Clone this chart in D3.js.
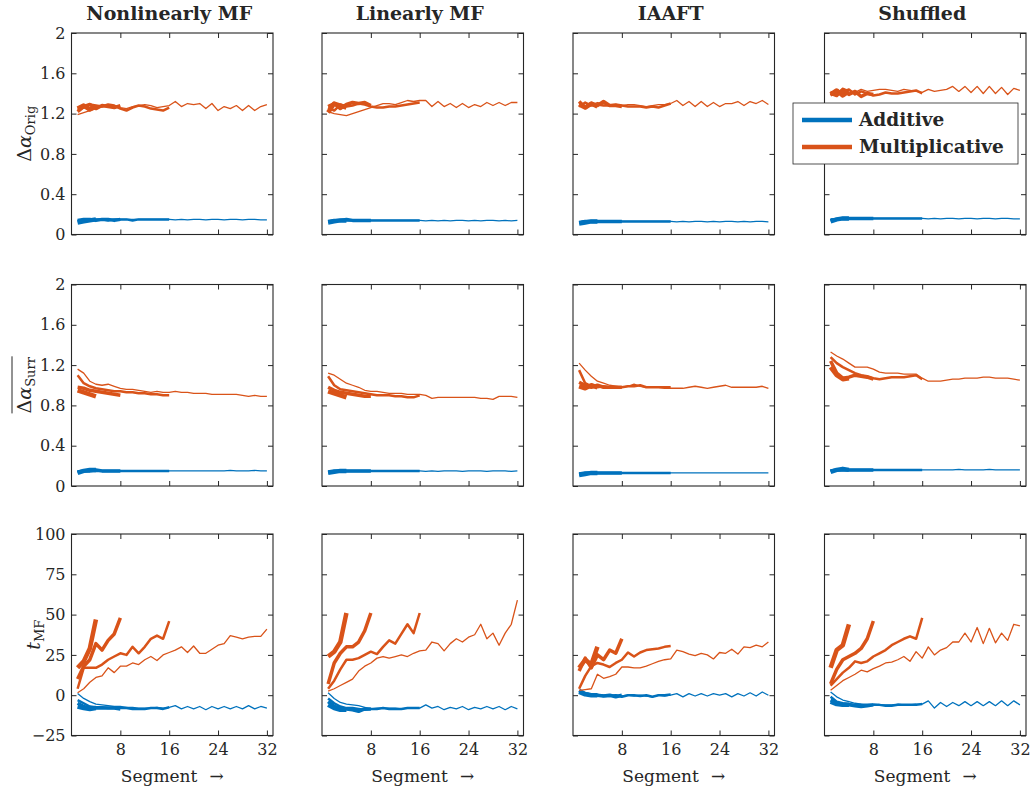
<!DOCTYPE html>
<html>
<head>
<meta charset="utf-8">
<script src="https://cdn.jsdelivr.net/npm/d3@7"></script>
<style>
body { margin: 0; background: #fff; }
svg text { font-family: "DejaVu Serif", serif; fill: #262626; }
</style>
</head>
<body>
<div id="chart"></div>
<script>
var colTitles = ["Nonlinearly MF", "Linearly MF", "IAAFT", "Shuffled"];
var segLengths = [4, 8, 16, 32];
var xTicks = [8, 16, 24, 32];
var alphaTicks = [0, 0.4, 0.8, 1.2, 1.6, 2];
var tTicks = [-25, 0, 25, 50, 75, 100];
var legendLabels = ["Additive", "Multiplicative"];

// each array: one line per segment count (4, 8, 16, 32)
// row 1: delta alpha of original series
var origNlAdd = [
  [0.12, 0.13, 0.14, 0.15],
  [0.14, 0.15, 0.15, 0.14, 0.15, 0.15, 0.14, 0.15],
  [0.13, 0.14, 0.15, 0.15, 0.15, 0.14, 0.15, 0.15, 0.15, 0.14, 0.15, 0.15, 0.15, 0.15, 0.15, 0.15],
  [0.14, 0.14, 0.15, 0.15, 0.15, 0.15, 0.15, 0.15, 0.15, 0.15, 0.15, 0.15, 0.15, 0.15, 0.15, 0.15, 0.145, 0.15, 0.145, 0.15, 0.15, 0.145, 0.15, 0.15, 0.145, 0.15, 0.15, 0.145, 0.15, 0.15, 0.145, 0.145]
];
var origNlMul = [
  [1.25, 1.28, 1.24, 1.27],
  [1.22, 1.27, 1.29, 1.25, 1.28, 1.27, 1.26, 1.28],
  [1.24, 1.26, 1.29, 1.28, 1.27, 1.29, 1.28, 1.25, 1.23, 1.26, 1.28, 1.27, 1.25, 1.24, 1.23, 1.26],
  [1.19, 1.21, 1.23, 1.25, 1.27, 1.27, 1.28, 1.26, 1.25, 1.27, 1.28, 1.29, 1.28, 1.26, 1.27, 1.28, 1.32, 1.27, 1.30, 1.29, 1.30, 1.25, 1.30, 1.23, 1.27, 1.25, 1.28, 1.23, 1.28, 1.23, 1.27, 1.29]
];
var origLinAdd = [
  [0.12, 0.13, 0.14, 0.14],
  [0.13, 0.14, 0.14, 0.15, 0.14, 0.14, 0.14, 0.14],
  [0.13, 0.13, 0.14, 0.14, 0.14, 0.14, 0.14, 0.14, 0.14, 0.14, 0.14, 0.14, 0.14, 0.14, 0.14, 0.14],
  [0.13, 0.14, 0.14, 0.14, 0.14, 0.14, 0.14, 0.14, 0.14, 0.14, 0.14, 0.14, 0.14, 0.14, 0.14, 0.14, 0.135, 0.14, 0.135, 0.14, 0.135, 0.14, 0.14, 0.135, 0.14, 0.135, 0.14, 0.14, 0.135, 0.14, 0.135, 0.14]
];
var origLinMul = [
  [1.21, 1.30, 1.28, 1.26],
  [1.27, 1.30, 1.25, 1.29, 1.31, 1.30, 1.31, 1.28],
  [1.26, 1.23, 1.29, 1.27, 1.28, 1.30, 1.29, 1.27, 1.26, 1.26, 1.27, 1.27, 1.28, 1.29, 1.30, 1.31],
  [1.22, 1.20, 1.19, 1.18, 1.20, 1.22, 1.24, 1.26, 1.28, 1.30, 1.30, 1.29, 1.31, 1.33, 1.32, 1.33, 1.33, 1.27, 1.32, 1.27, 1.30, 1.26, 1.30, 1.26, 1.29, 1.27, 1.31, 1.28, 1.31, 1.28, 1.31, 1.31]
];
var origIaaftAdd = [
  [0.11, 0.12, 0.13, 0.13],
  [0.12, 0.13, 0.13, 0.13, 0.13, 0.13, 0.13, 0.13],
  [0.12, 0.13, 0.13, 0.13, 0.13, 0.13, 0.13, 0.13, 0.13, 0.13, 0.13, 0.13, 0.13, 0.13, 0.13, 0.13],
  [0.12, 0.125, 0.13, 0.13, 0.13, 0.13, 0.13, 0.13, 0.13, 0.13, 0.13, 0.13, 0.13, 0.13, 0.13, 0.13, 0.125, 0.13, 0.125, 0.13, 0.13, 0.125, 0.13, 0.125, 0.13, 0.13, 0.125, 0.13, 0.125, 0.13, 0.13, 0.125]
];
var origIaaftMul = [
  [1.29, 1.26, 1.30, 1.27],
  [1.32, 1.26, 1.30, 1.28, 1.32, 1.28, 1.28, 1.27],
  [1.27, 1.31, 1.28, 1.29, 1.28, 1.28, 1.29, 1.28, 1.27, 1.27, 1.27, 1.26, 1.27, 1.26, 1.28, 1.30],
  [1.30, 1.28, 1.29, 1.31, 1.30, 1.28, 1.29, 1.28, 1.29, 1.29, 1.28, 1.27, 1.28, 1.29, 1.29, 1.30, 1.33, 1.28, 1.32, 1.27, 1.32, 1.27, 1.31, 1.27, 1.30, 1.30, 1.32, 1.28, 1.32, 1.30, 1.33, 1.29]
];
var origShufAdd = [
  [0.13, 0.15, 0.16, 0.16],
  [0.14, 0.15, 0.16, 0.16, 0.16, 0.16, 0.16, 0.16],
  [0.15, 0.15, 0.16, 0.16, 0.16, 0.16, 0.16, 0.16, 0.16, 0.16, 0.16, 0.16, 0.16, 0.16, 0.16, 0.16],
  [0.15, 0.155, 0.16, 0.16, 0.16, 0.16, 0.16, 0.16, 0.16, 0.16, 0.16, 0.16, 0.16, 0.16, 0.16, 0.16, 0.155, 0.16, 0.155, 0.16, 0.16, 0.155, 0.16, 0.16, 0.155, 0.16, 0.16, 0.155, 0.16, 0.16, 0.155, 0.155]
];
var origShufMul = [
  [1.39, 1.43, 1.38, 1.42],
  [1.40, 1.38, 1.44, 1.39, 1.42, 1.37, 1.40, 1.39],
  [1.38, 1.43, 1.41, 1.44, 1.39, 1.42, 1.40, 1.38, 1.39, 1.41, 1.40, 1.40, 1.41, 1.42, 1.43, 1.40],
  [1.42, 1.40, 1.45, 1.43, 1.41, 1.44, 1.42, 1.43, 1.44, 1.44, 1.43, 1.42, 1.44, 1.43, 1.42, 1.41, 1.44, 1.42, 1.43, 1.44, 1.47, 1.42, 1.47, 1.41, 1.47, 1.40, 1.47, 1.40, 1.46, 1.39, 1.45, 1.43]
];

// row 2: mean delta alpha of surrogates
var surrNlAdd = [
  [0.13, 0.15, 0.16, 0.16],
  [0.14, 0.15, 0.15, 0.16, 0.15, 0.15, 0.15, 0.15],
  [0.14, 0.15, 0.15, 0.15, 0.15, 0.15, 0.15, 0.15, 0.15, 0.15, 0.15, 0.15, 0.15, 0.15, 0.15, 0.15],
  [0.15, 0.15, 0.15, 0.15, 0.15, 0.15, 0.15, 0.15, 0.15, 0.15, 0.15, 0.15, 0.15, 0.15, 0.15, 0.15, 0.15, 0.15, 0.15, 0.15, 0.15, 0.15, 0.15, 0.15, 0.15, 0.155, 0.15, 0.15, 0.15, 0.155, 0.15, 0.15]
];
var surrNlMul = [
  [0.95, 0.93, 0.91, 0.89],
  [0.98, 0.97, 0.95, 0.94, 0.93, 0.92, 0.91, 0.90],
  [1.10, 1.02, 0.99, 0.97, 0.96, 0.95, 0.94, 0.94, 0.93, 0.93, 0.92, 0.92, 0.91, 0.91, 0.90, 0.90],
  [1.16, 1.12, 1.04, 1.01, 1.00, 1.01, 0.99, 0.97, 0.96, 0.96, 0.95, 0.94, 0.93, 0.94, 0.93, 0.93, 0.94, 0.93, 0.93, 0.92, 0.92, 0.92, 0.91, 0.91, 0.91, 0.91, 0.91, 0.90, 0.89, 0.90, 0.89, 0.89]
];
var surrLinAdd = [
  [0.13, 0.14, 0.15, 0.15],
  [0.14, 0.15, 0.15, 0.15, 0.15, 0.15, 0.15, 0.15],
  [0.14, 0.14, 0.15, 0.15, 0.15, 0.15, 0.15, 0.15, 0.15, 0.15, 0.15, 0.15, 0.15, 0.15, 0.15, 0.15],
  [0.14, 0.145, 0.15, 0.15, 0.15, 0.15, 0.15, 0.15, 0.15, 0.15, 0.15, 0.15, 0.15, 0.15, 0.15, 0.15, 0.145, 0.15, 0.145, 0.15, 0.15, 0.15, 0.145, 0.15, 0.15, 0.15, 0.145, 0.15, 0.15, 0.15, 0.145, 0.15]
];
var surrLinMul = [
  [0.94, 0.92, 0.90, 0.88],
  [0.98, 0.95, 0.93, 0.92, 0.91, 0.90, 0.89, 0.89],
  [1.09, 1.00, 0.96, 0.95, 0.94, 0.93, 0.92, 0.91, 0.90, 0.90, 0.90, 0.89, 0.89, 0.88, 0.88, 0.90],
  [1.12, 1.10, 1.06, 1.02, 1.00, 0.98, 0.95, 0.94, 0.94, 0.93, 0.92, 0.92, 0.92, 0.91, 0.91, 0.91, 0.90, 0.87, 0.88, 0.88, 0.88, 0.88, 0.88, 0.88, 0.88, 0.87, 0.87, 0.86, 0.89, 0.89, 0.89, 0.88]
];
var surrIaaftAdd = [
  [0.11, 0.12, 0.13, 0.13],
  [0.12, 0.13, 0.13, 0.13, 0.13, 0.13, 0.13, 0.13],
  [0.12, 0.125, 0.13, 0.13, 0.13, 0.13, 0.13, 0.13, 0.13, 0.13, 0.13, 0.13, 0.13, 0.13, 0.13, 0.13],
  [0.125, 0.13, 0.13, 0.13, 0.13, 0.13, 0.13, 0.13, 0.13, 0.13, 0.13, 0.13, 0.13, 0.13, 0.13, 0.13, 0.13, 0.13, 0.13, 0.13, 0.13, 0.13, 0.13, 0.13, 0.13, 0.13, 0.13, 0.13, 0.13, 0.13, 0.13, 0.13]
];
var surrIaaftMul = [
  [0.99, 0.97, 1.00, 0.98],
  [1.03, 1.00, 0.98, 1.00, 0.98, 0.98, 0.98, 0.98],
  [1.15, 1.02, 0.99, 0.98, 0.99, 0.98, 0.98, 0.98, 0.99, 0.99, 1.00, 0.98, 0.98, 0.98, 0.98, 0.98],
  [1.22, 1.15, 1.09, 1.04, 1.02, 1.00, 0.99, 0.98, 0.99, 1.01, 0.99, 0.98, 0.98, 0.98, 0.97, 0.97, 0.97, 0.97, 0.98, 0.99, 0.98, 0.97, 0.98, 0.99, 1.00, 0.98, 0.98, 0.98, 0.98, 0.98, 0.99, 0.97]
];
var surrShufAdd = [
  [0.14, 0.16, 0.17, 0.16],
  [0.15, 0.16, 0.16, 0.16, 0.16, 0.16, 0.16, 0.16],
  [0.15, 0.16, 0.16, 0.16, 0.16, 0.16, 0.16, 0.16, 0.16, 0.16, 0.16, 0.16, 0.16, 0.16, 0.16, 0.16],
  [0.16, 0.16, 0.16, 0.16, 0.16, 0.16, 0.16, 0.16, 0.16, 0.16, 0.16, 0.16, 0.16, 0.16, 0.16, 0.16, 0.16, 0.16, 0.16, 0.16, 0.16, 0.165, 0.16, 0.16, 0.16, 0.16, 0.165, 0.16, 0.16, 0.16, 0.16, 0.16]
];
var surrShufMul = [
  [1.18, 1.10, 1.06, 1.07],
  [1.24, 1.12, 1.07, 1.08, 1.10, 1.09, 1.08, 1.06],
  [1.28, 1.22, 1.18, 1.15, 1.12, 1.10, 1.09, 1.07, 1.06, 1.07, 1.08, 1.08, 1.08, 1.09, 1.10, 1.06],
  [1.33, 1.29, 1.26, 1.22, 1.18, 1.18, 1.18, 1.16, 1.13, 1.12, 1.12, 1.12, 1.11, 1.11, 1.11, 1.07, 1.04, 1.04, 1.04, 1.05, 1.06, 1.06, 1.07, 1.07, 1.07, 1.08, 1.08, 1.07, 1.07, 1.07, 1.06, 1.05]
];

// row 3: t_MF
var tmfNlAdd = [
  [-7, -8, -8.5, -8],
  [-5, -7, -8, -8, -8, -8, -8, -8.5],
  [-3, -5, -7, -7.5, -7.5, -8, -8, -8, -8, -8.5, -8.5, -8.5, -8, -8, -8.5, -7.5],
  [1, -2, -4, -5.5, -6, -6.5, -7, -7, -7.5, -7.5, -8, -8, -8, -7.5, -8, -7.5, -6.5, -8.5, -7, -8.5, -7, -9, -7, -8.5, -7, -8.5, -7, -8.5, -6.5, -8.5, -7, -8]
];
var tmfNlMul = [
  [17, 21, 29, 47],
  [10, 18, 22, 32, 28, 34, 38, 48],
  [4, 17, 17, 17, 19, 22, 24, 26, 25, 30, 26, 30, 35, 37, 35, 46],
  [1.5, 4, 8, 11, 12, 17, 14, 18, 18, 20, 19, 22, 24, 21.5, 25, 26.5, 28, 30, 26.5, 30.5, 26, 26, 28.5, 31, 32, 37, 36, 35, 36, 36.5, 36.5, 41]
];
var tmfLinAdd = [
  [-6, -8, -9, -9],
  [-4, -7, -8, -8.5, -9, -10, -8.5, -8.5],
  [-2, -5, -7, -8, -8, -8.5, -9, -8.5, -8.5, -8, -8.5, -8.5, -8.5, -8, -8, -8],
  [1.5, -2, -4.5, -5.5, -6, -6.5, -7.5, -8.5, -8, -8, -8, -8, -8.5, -8, -8, -8, -6, -8, -7, -9, -7.5, -8.5, -7, -9, -7.5, -8.5, -7, -8.5, -7, -9, -7, -8.5]
];
var tmfLinMul = [
  [24, 27, 33, 51],
  [7, 20, 26, 30, 30, 33, 40, 51],
  [4, 9, 16, 22, 22, 23, 25, 27, 25.5, 30, 34, 32, 38, 44, 38.5, 51],
  [2.5, 4, 6, 8, 10, 15, 18, 20, 23, 24, 23, 24, 25, 24, 26, 27.5, 28, 33, 32, 27.5, 32, 35, 33, 36, 37.5, 44, 35, 38.5, 31, 38.5, 44, 59]
];
var tmfIaaftAdd = [
  [2, 0.5, 0, 0],
  [3, 1, 0, 0, -0.5, 0, -1, 0],
  [2.5, 1, 0.5, 0, -0.5, -0.5, 0, -1, 0, 0, -0.5, 0, -1, 0, 0, 0.5],
  [2, 1.5, 1, 0.5, 0, -0.5, 0, -0.5, 0, -0.5, 0, -0.5, -1, 0, -0.5, 0, 1, -1, 1, -0.5, 1, -0.5, 1, 0, 1, -1, 1, -0.5, 1.5, -0.5, 2, 0]
];
var tmfIaaftMul = [
  [17, 22, 19, 30],
  [15, 23, 17, 25, 22, 28, 26, 35],
  [4, 12, 18, 20, 19, 17.5, 20, 22, 26.5, 24, 26.5, 28, 28.5, 29, 30, 30.5],
  [3, 3.5, 4, 13, 10.5, 11.5, 13, 17.5, 17.5, 17, 17, 18, 19.5, 21, 22, 22.5, 28, 27, 25.5, 24.5, 26, 25, 22.5, 26.5, 26, 28.5, 25.5, 30, 29.5, 31, 30, 33]
];
var tmfShufAdd = [
  [-4, -5.5, -6, -6],
  [-3, -5, -6, -6, -6.5, -7, -6.5, -6],
  [-1, -4, -5, -5.5, -6, -6, -6.5, -6, -6, -6.5, -6.5, -6, -6, -6, -6, -5.5],
  [2, -1, -3, -4, -5, -5.5, -5.5, -5.5, -6, -6, -6, -5.5, -6, -6, -5.5, -5.5, -3.5, -8, -4.5, -7, -4.5, -6.5, -4, -6.5, -4, -6.5, -4, -6.5, -3.5, -6.5, -3.5, -6]
];
var tmfShufMul = [
  [17, 28, 31, 44],
  [7, 16, 22, 24, 26, 29, 35, 46],
  [6, 10, 14, 17, 21, 20, 21, 24, 26, 28, 31, 33, 35, 36.5, 35, 48],
  [3, 6, 9, 11, 13, 15.5, 14.5, 16.5, 18, 20, 20.5, 22, 24, 21, 27, 23, 30, 25, 28, 29.5, 33, 33, 38.5, 33, 42, 32, 41.5, 32.5, 38.5, 34, 44, 43]
];

var rows = [
  { domain: [0, 2], ticks: alphaTicks, label: "orig",
    panels: [[origNlAdd, origNlMul], [origLinAdd, origLinMul], [origIaaftAdd, origIaaftMul], [origShufAdd, origShufMul]] },
  { domain: [0, 2], ticks: alphaTicks, label: "surr",
    panels: [[surrNlAdd, surrNlMul], [surrLinAdd, surrLinMul], [surrIaaftAdd, surrIaaftMul], [surrShufAdd, surrShufMul]] },
  { domain: [-25, 100], ticks: tTicks, label: "tmf",
    panels: [[tmfNlAdd, tmfNlMul], [tmfLinAdd, tmfLinMul], [tmfIaaftAdd, tmfIaaftMul], [tmfShufAdd, tmfShufMul]] }
];

var width = 1031, height = 791;
var colX = [71.5, 322, 573, 824.5];
var rowY = [33, 284.5, 534];
var pw = 201.5, ph = 201.5;
var colors = ["#0072BD", "#D95319"];
var lineW = [4.5, 3.5, 2.5, 1.3];
var axisColor = "#262626";

var svg = d3.select("#chart").append("svg")
  .attr("width", width)
  .attr("height", height);

var x = d3.scaleLinear().domain([0, 33]).range([0, pw]);
var noLabel = function(){ return ""; };

rows.forEach(function(row, r){
  var y = d3.scaleLinear().domain(row.domain).range([ph, 0]);

  row.panels.forEach(function(p, c){
    var g = svg.append("g")
      .attr("transform", "translate(" + colX[c] + "," + rowY[r] + ")");

    var line = d3.line()
      .x(function(d, i){ return x(i + 1); })
      .y(function(d){ return y(d); });

    p.forEach(function(series, s){
      series.forEach(function(vals, k){
        g.append("path").datum(vals)
          .attr("fill", "none")
          .attr("stroke", colors[s])
          .attr("stroke-width", lineW[k])
          .attr("stroke-linejoin", "round")
          .attr("d", line);
      });
    });

    // MATLAB-like box with inward ticks on all four sides
    g.append("g")
      .call(d3.axisLeft(y).tickValues(row.ticks).tickSizeInner(-5).tickSizeOuter(0)
        .tickPadding(6).tickFormat(c == 0 ? d3.format("") : noLabel));
    g.append("g").attr("transform", "translate(" + pw + ",0)")
      .call(d3.axisRight(y).tickValues(row.ticks).tickSizeInner(-5).tickSizeOuter(0).tickFormat(noLabel));
    g.append("g").attr("transform", "translate(0," + ph + ")")
      .call(d3.axisBottom(x).tickValues(xTicks).tickSizeInner(-5).tickSizeOuter(0)
        .tickPadding(8).tickFormat(r == 2 ? d3.format("") : noLabel));
    g.append("g")
      .call(d3.axisTop(x).tickValues(xTicks).tickSizeInner(-5).tickSizeOuter(0).tickFormat(noLabel));

    g.selectAll(".domain").remove();
    g.selectAll(".tick line").attr("stroke", axisColor).attr("stroke-width", 1);
    g.selectAll(".tick text")
      .attr("fill", axisColor)
      .style("font-family", "'DejaVu Serif', serif")
      .style("font-size", "16px");

    g.append("rect")
      .attr("width", pw).attr("height", ph)
      .attr("fill", "none")
      .attr("stroke", axisColor)
      .attr("stroke-width", 1.1);

    if (r == 0) {
      svg.append("text")
        .attr("x", colX[c] + pw / 2 - 3)
        .attr("y", 20)
        .attr("text-anchor", "middle")
        .style("font-weight", "bold")
        .style("font-size", "19px")
        .text(colTitles[c]);
    }
    if (r == 2) {
      var xl = svg.append("text")
        .attr("x", colX[c] + pw / 2)
        .attr("y", 782)
        .attr("text-anchor", "middle")
        .style("font-size", "17px");
      xl.append("tspan").text("Segment");
      xl.append("tspan").attr("dx", 12).text("\u2192");
    }
  });

  // y labels
  var lx = r == 2 ? 40 : 31;
  var lg = svg.append("g")
    .attr("transform", "translate(" + lx + "," + (rowY[r] + ph / 2) + ") rotate(-90)");
  var t = lg.append("text").attr("text-anchor", "middle").style("font-size", "19px");
  if (row.label == "tmf") {
    t.append("tspan").style("font-style", "italic").text("t");
    t.append("tspan").attr("dy", 4).style("font-size", "13px").text("MF");
  } else {
    t.append("tspan").text("\u0394");
    t.append("tspan").style("font-style", "italic").text("\u03b1");
    t.append("tspan").attr("dy", 4).style("font-size", "13px").text(row.label == "orig" ? "Orig" : "Surr");
    if (row.label == "surr") {
      var bb = t.node().getBBox();
      lg.append("line")
        .attr("x1", bb.x).attr("x2", bb.x + bb.width)
        .attr("y1", bb.y - 1).attr("y2", bb.y - 1)
        .attr("stroke", axisColor).attr("stroke-width", 1);
    }
  }
});

// legend
var leg = svg.append("g").attr("transform", "translate(793,103)");
leg.append("rect")
  .attr("width", 225).attr("height", 61)
  .attr("fill", "#fff")
  .attr("stroke", axisColor)
  .attr("stroke-width", 0.8);
legendLabels.forEach(function(name, i){
  var ly = 17 + i * 27;
  leg.append("line")
    .attr("x1", 9).attr("x2", 59)
    .attr("y1", ly).attr("y2", ly)
    .attr("stroke", colors[i])
    .attr("stroke-width", 4.5);
  leg.append("text")
    .attr("x", 66).attr("y", ly + 6)
    .style("font-weight", "bold")
    .style("font-size", "18.5px")
    .text(name);
});
</script>
</body>
</html>
